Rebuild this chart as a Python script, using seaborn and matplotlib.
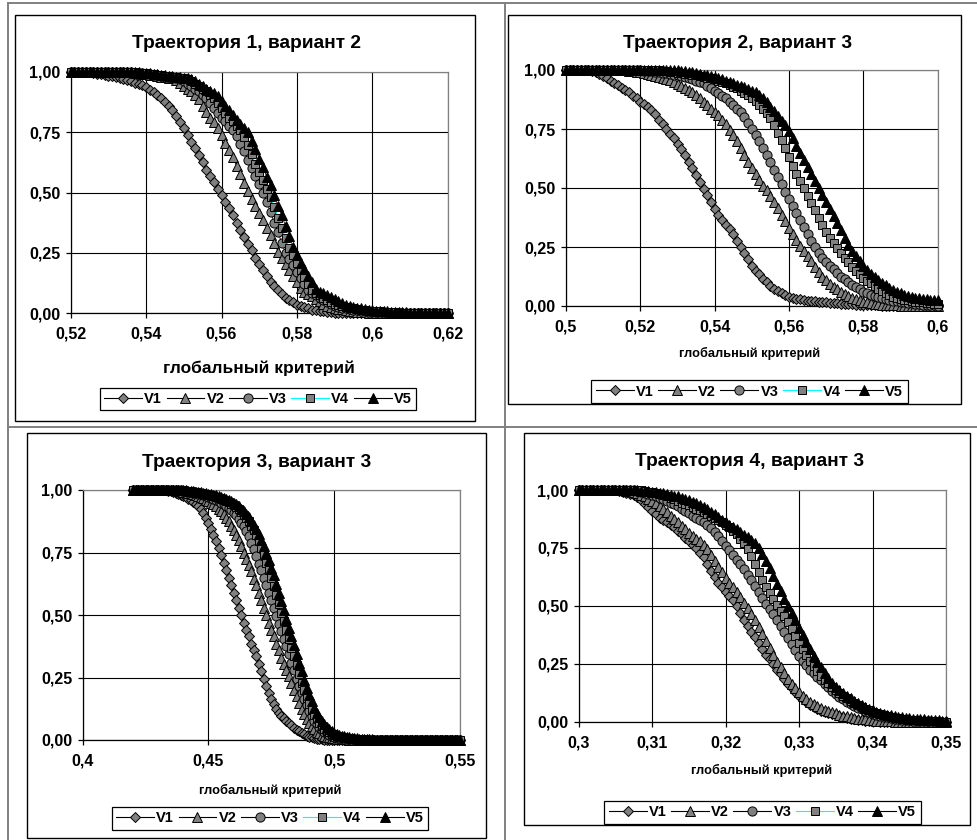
import numpy as np
import matplotlib
matplotlib.use("Agg")
import matplotlib.pyplot as plt
import seaborn as sns
from matplotlib.ticker import FuncFormatter, FixedLocator
from matplotlib.lines import Line2D
from matplotlib.patches import Rectangle

plt.rcParams['font.family'] = ['Liberation Sans', 'DejaVu Sans']
plt.rcParams['font.weight'] = 'bold'

series_names = ["V1", "V2", "V3", "V4", "V5"]
titles = ["Траектория 1, вариант 2", "Траектория 2, вариант 3",
          "Траектория 3, вариант 3", "Траектория 4, вариант 3"]
xlabel_text = "глобальный критерий"

# ---------------- Panel 1 : x = 0.520 ... 0.620, step 0.001 (values in %)
p1_x_start, p1_x_step = 0.520, 0.001
p1_xlim = (0.52, 0.62)
p1_xticks = [0.52, 0.54, 0.56, 0.58, 0.60, 0.62]
p1_V1 = [100,100,100,100,100,100,99.5,99.2,99,98.7,
         98.4,98.1,97.8,97.4,97,96.5,96,95.5,95,94.3,
         93.5,92.5,91.5,90.5,89,87.5,86,84,81.5,79,
         76.5,74,71,68.5,65.5,62.5,59.5,57,54.5,51.5,
         49,46,43.5,40.5,37.5,34.5,31.5,28.5,26,23,
         20.5,18,15.5,13,11.5,9.5,8,6.5,5.5,4.5,
         3.5,3,2.5,2,1.5,1.3,1,0.8,0.6,0.4,
         0.3,0.2,0.1,0,0,0,0,0,0,0,
         0,0,0,0,0,0,0,0,0,0,
         0,0,0,0,0,0,0,0,0,0,
         0]
p1_V2 = [100,100,100,100,100,100,100,100,100,100,
         100,100,100,100,100,100,99.8,99.6,99.4,99.2,
         99,98.7,98.5,98.2,98,97.8,97.5,97.2,96.5,95.3,
         94,93,92,90.5,88.5,86,83.5,81,79,76.5,
         74,70.5,67.5,64.5,61,57.5,54,50.5,47.5,44.5,
         41.5,38.5,35.5,32.5,29,25.5,23,20.5,18,15.5,
         13,10.5,9,8,7,6,5,4,3,2.6,
         2.2,1.9,1.6,1.3,1,0.8,0.6,0.5,0.4,0.3,
         0.2,0.1,0,0,0,0,0,0,0,0,
         0,0,0,0,0,0,0,0,0,0,
         0]
p1_V3 = [100,100,100,100,100,100,100,100,100,100,
         100,100,100,100,100,100,99.8,99.6,99.4,99.3,
         99.1,99,98.7,98.5,98.2,98,97.7,97.5,97.2,97,
         96,95,94,93,92,90.5,89,87,85,83,
         81,79.5,77.5,76,73.5,70,67,63.5,60,57,
         53.5,50,46,42,37.5,33.5,29,25,22.5,20,
         17,14.5,12,9.5,8.5,7.5,6.5,5.5,4.5,3.7,
         3,2.7,2.4,2,1.7,1.4,1.2,1,0.8,0.7,
         0.5,0.4,0.3,0.2,0.1,0,0,0,0,0,
         0,0,0,0,0,0,0,0,0,0,
         0]
p1_V4 = [100,100,100,100,100,100,100,100,100,100,
         100,100,100,100,100,100,100,99.8,99.6,99.4,
         99.3,99.1,99,98.8,98.6,98.4,98.2,98,97.7,97.5,
         97.2,97,96,95,94,93,92,90.5,89,87,
         85,83,81,79.5,77.5,76,73,69.5,66,62,
         58.5,55,51.5,48,44,39.5,35.5,31,27,24,
         21,18,15,12,9.5,8.5,7.5,6.5,5.5,4.7,
         4,3.5,3,2.7,2.4,2.1,1.8,1.5,1.3,1.1,
         1,0.9,0.8,0.7,0.6,0.5,0.4,0.3,0.2,0.2,
         0.1,0,0,0,0,0,0,0,0,0,
         0]
p1_V5 = [100,100,100,100,100,100,100,100,100,100,
         100,100,100,100,100,100,100,100,99.8,99.6,
         99.4,99.3,99.1,99,98.8,98.6,98.4,98.2,98,97.7,
         97.5,97.2,97,96,95,94,93,92,91,90,
         88,86,84,82,80,78.5,76.5,75,71.5,68,
         64,60.5,56.5,53,49,44.5,40.5,36,32,27.5,
         24,21,18.5,15.5,13,10,9,8.3,7.5,6.7,
         6,5,4.3,3.5,3,2.7,2.4,2.1,1.8,1.5,
         1.3,1.1,1,0.9,0.8,0.7,0.6,0.5,0.4,0.4,
         0.3,0.3,0.2,0.2,0.1,0.1,0,0,0,0,
         0]

# ---------------- Panel 2 : x = 0.500 ... 0.600, step 0.001
p2_x_start, p2_x_step = 0.500, 0.001
p2_xlim = (0.50, 0.60)
p2_xticks = [0.50, 0.52, 0.54, 0.56, 0.58, 0.60]
p2_V1 = [100,100,100,100,100,100,100,99.7,99.3,98.5,
         97.5,96.5,95.5,94.5,93.5,92.5,91.5,90.5,89,88,
         86.5,85.5,84.5,83,81.5,79,77,75,73,71,
         68.5,66.5,64,61,58.5,55.5,52.5,49.5,47,44,
         41,38.5,36.5,34.5,32.5,30.5,27.5,25,22.5,20,
         17,15,13.5,11.5,10,8.5,7,6.2,5.3,4.5,
         3.9,3.5,3.1,2.8,2.5,2.3,2.1,2,1.8,1.7,
         1.5,1.4,1.3,1.1,1,0.9,0.8,0.7,0.6,0.5,
         0.4,0.4,0.3,0.3,0.3,0.2,0.2,0.2,0.1,0.1,
         0.1,0,0,0,0,0,0,0,0,0,
         0]
p2_V2 = [100,100,100,100,100,100,100,100,100,100,
         100,100,100,100,100,100,99.8,99.6,99.4,99.2,
         99,98.7,98.4,98,97.6,97.2,96.8,96.3,95.8,95,
         94.2,93.4,92.5,91.5,90.5,89.5,88,86.5,85,83.5,
         82.3,81,79,77,74.5,72.5,70,67,64,61,
         58.5,56,53.5,51,49,46.5,44,41.5,38.5,36,
         33,30.5,28,25.5,23.5,21,19,16.5,14.5,12.5,
         11,9.5,8,7,6,5,4.3,3.6,3,2.4,
         1.8,1.5,1.2,1,0.8,0.6,0.5,0.4,0.3,0.3,
         0.2,0.2,0.1,0.1,0,0,0,0,0,0,
         0]
p2_V3 = [100,100,100,100,100,100,100,100,100,100,
         100,100,100,100,100,100,100,100,100,100,
         99.8,99.7,99.5,99.4,99.2,99,98.8,98.6,98.3,98,
         97.7,97.3,97,96.5,96,95.5,95,94.3,93.3,92.3,
         91.3,90.3,89,88,86.5,85,83.5,82,80,77.5,
         75,72.5,70,67,64,61,57.5,54.5,51.5,48.5,
         45.5,42.5,39.5,36.5,33.5,30.5,27.5,25,22.5,20.5,
         18.5,17,15.5,14,12.5,11.5,10,9,8,7,
         6,5.3,4.7,4.2,3.7,3.3,2.9,2.6,2.3,2,
         1.8,1.6,1.4,1.2,1,0.8,0.6,0.5,0.4,0.3,
         0.2]
p2_V4 = [100,100,100,100,100,100,100,100,100,100,
         100,100,100,100,100,100,100,100,100,100,
         100,100,100,100,100,99.8,99.6,99.4,99.2,99,
         98.8,98.6,98.4,98.2,98,97.7,97.4,97.1,96.8,96.5,
         96,95.5,95,94.4,93.7,93,92.2,91.3,90.3,89.2,
         88,86.7,85.2,83.6,81.8,79.5,76.5,73.5,70.5,67,
         63,59.5,56,53,50,46.5,43.5,40.5,37.5,34.5,
         31.5,29,26.5,24.5,22.5,20.5,18.5,16.7,15,13.5,
         12,10.8,9.6,8.5,7.4,6.4,5.5,4.7,4,3.5,
         3,2.7,2.4,2.1,1.9,1.7,1.5,1.3,1.1,1,
         0.9]
p2_V5 = [100,100,100,100,100,100,100,100,100,100,
         100,100,100,100,100,100,100,100,100,100,
         100,100,100,100,100,100,100,100,100,100,
         99.8,99.6,99.4,99.2,99,98.7,98.4,98,97.7,97.3,
         96.9,96.5,96,95.5,95,94.4,93.8,93.2,92.6,92,
         91.3,90.5,89.5,88,86.5,84.5,82.5,80.5,78.5,76.5,
         74,71,68,65,62,59,56,53,50,47,
         44,41,38,35,32,29,26,23.5,21,19,
         17,15.2,13.7,12.3,11,9.8,8.7,7.7,6.8,6,
         5.3,4.7,4.2,3.8,3.5,3.2,3,2.8,2.6,2.5,
         2.4]

# ---------------- Panel 3 : x = 0.420 ... 0.550, step 0.001
p3_x_start, p3_x_step = 0.420, 0.001
p3_xlim = (0.40, 0.55)
p3_xticks = [0.40, 0.45, 0.50, 0.55]
p3_V1 = [100,100,100,100,100,100,100,100,100,100,
         100,100,100,100,99.8,99.6,99.3,99,98.6,98.2,
         97.7,97.2,96.6,96,95.3,94.5,93.5,92.3,90.8,89,
         87,84.5,82,79.5,77,74,71,68,65,62,
         59,56,53,50,47,44,41.5,38.5,36,33.5,
         30.5,27.5,24.5,21.5,19,16.5,14.5,12.5,11,9.8,
         8.8,7.8,6.9,6,5,4.2,3.5,2.9,2.3,1.8,
         1.4,1.1,0.8,0.6,0.4,0.3,0.2,0.1,0,0,
         0,0,0,0,0,0,0,0,0,0,
         0,0,0,0,0,0,0,0,0,0,
         0,0,0,0,0,0,0,0,0,0,
         0,0,0,0,0,0,0,0,0,0,
         0,0,0,0,0,0,0,0,0,0,
         0]
p3_V2 = [100,100,100,100,100,100,100,100,100,100,
         100,100,100,100,100,100,100,100,99.8,99.6,
         99.4,99.2,99,98.7,98.4,98,97.6,97.2,96.7,96.1,
         95.5,95,94.5,93.5,92.5,91.5,90.5,89,87.5,85.5,
         84,82,80,77.5,75,72.5,70,67.5,64.5,62,
         59,56,53,50,47,44,41.5,38.5,36,33,
         30.5,28,25.5,23,20,17.5,15,12.5,10.5,8.5,
         7,5.5,4.3,3.4,2.7,2.1,1.7,1.3,1.1,0.9,
         0.7,0.6,0.5,0.4,0.3,0.3,0.2,0.2,0.1,0.1,
         0,0,0,0,0,0,0,0,0,0,
         0,0,0,0,0,0,0,0,0,0,
         0,0,0,0,0,0,0,0,0,0,
         0,0,0,0,0,0,0,0,0,0,
         0]
p3_V3 = [100,100,100,100,100,100,100,100,100,100,
         100,100,100,100,100,100,100,100,100,100,
         99.8,99.6,99.4,99.2,99,98.8,98.6,98.3,98,97.7,
         97.3,97,96.5,96,95.5,95,94.3,93.6,92.8,92,
         91,90,88.5,87,85.5,83.5,81.5,79,76.5,73.5,
         70.5,68,65,62,59,56,53,49.5,46.5,43.5,
         40.5,37.5,34.5,31,28,24.5,21.5,19,16.5,14,
         11.5,9.5,7.8,6.4,5.2,4.2,3.4,2.7,2.1,1.7,
         1.3,1,0.8,0.7,0.6,0.5,0.4,0.3,0.3,0.2,
         0.2,0.1,0.1,0,0,0,0,0,0,0,
         0,0,0,0,0,0,0,0,0,0,
         0,0,0,0,0,0,0,0,0,0,
         0,0,0,0,0,0,0,0,0,0,
         0]
p3_V4 = [100,100,100,100,100,100,100,100,100,100,
         100,100,100,100,100,100,100,100,100,100,
         100,99.8,99.6,99.5,99.3,99.2,99,98.8,98.6,98.4,
         98.2,98,97.7,97.4,97,96.6,96.2,95.7,95.2,94.6,
         94,93.2,92.3,91.3,90.2,89,87.5,85.8,84,82,
         79.5,77,74,71,68,65,61.5,58,54.5,51,
         47.5,44,40.5,37,33.5,30,26.5,23,20,17,
         14.5,12,10,8.3,6.8,5.6,4.6,3.8,3.1,2.5,
         2,1.6,1.3,1.1,0.9,0.8,0.7,0.6,0.5,0.4,
         0.3,0.3,0.2,0.2,0.1,0.1,0,0,0,0,
         0,0,0,0,0,0,0,0,0,0,
         0,0,0,0,0,0,0,0,0,0,
         0,0,0,0,0,0,0,0,0,0,
         0]
p3_V5 = [100,100,100,100,100,100,100,100,100,100,
         100,100,100,100,100,100,100,100,100,100,
         100,100,99.8,99.7,99.5,99.4,99.2,99.1,99,98.8,
         98.6,98.4,98.2,98,97.7,97.4,97,96.6,96.1,95.6,
         95,94.3,93.5,92.6,91.6,90.5,89.2,87.8,86.2,84.4,
         82.4,80,77.5,75,72,69,66,62.5,59,55.5,
         52,48.5,45,41.5,38,34.5,31,27.5,24,21,
         18,15.5,13,11,9.2,7.7,6.4,5.3,4.4,3.6,
         3,2.5,2.1,1.8,1.5,1.3,1.1,0.9,0.8,0.7,
         0.6,0.5,0.4,0.4,0.3,0.3,0.2,0.2,0.1,0.1,
         0,0,0,0,0,0,0,0,0,0,
         0,0,0,0,0,0,0,0,0,0,
         0,0,0,0,0,0,0,0,0,0,
         0]

# ---------------- Panel 4 : x = 0.3000 ... 0.3500, step 0.0005
p4_x_start, p4_x_step = 0.3000, 0.0005
p4_xlim = (0.30, 0.35)
p4_xticks = [0.30, 0.31, 0.32, 0.33, 0.34, 0.35]
p4_V1 = [100,100,100,100,100,100,100,100,100,100,
         99.8,99.5,99.2,98.8,98.3,97.7,96.8,95.5,94,92.5,
         91,89.5,88,87,86,85,84,82.5,81,79.5,
         78,76.5,75,73,71,68,65,62.5,60,58,
         56,54.5,52.5,50,47,44,41.5,39,36.5,34,
         31.5,29,27,25,22.5,20.5,18.5,16.5,14.5,13,
         11.2,9.7,8.5,7.5,6.5,5.5,4.8,4.2,3.8,3.3,
         2.9,2.5,2.1,1.7,1.4,1.1,0.9,0.7,0.6,0.5,
         0.4,0.3,0.2,0.2,0.1,0.1,0,0,0,0,
         0,0,0,0,0,0,0,0,0,0,
         0]
p4_V2 = [100,100,100,100,100,100,100,100,100,100,
         100,100,100,99.7,99.4,99,98.5,97.9,97.2,96.3,
         95.3,94.3,93.2,92,90.5,89,87.5,86,84.5,83,
         81.5,80,79,78,76.5,74.5,72,69.5,67,64.5,
         62,60,58,56,54,51.5,49,46.5,44,41,
         38,35,32,29,26,23.5,21,18.5,16.5,14.5,
         12.8,11.3,10,8.8,7.8,6.8,6,5.3,4.7,4.2,
         3.7,3.2,2.8,2.4,2.1,1.8,1.5,1.3,1.1,0.9,
         0.7,0.6,0.5,0.4,0.3,0.3,0.2,0.2,0.1,0.1,
         0,0,0,0,0,0,0,0,0,0,
         0]
p4_V3 = [100,100,100,100,100,100,100,100,100,100,
         100,100,100,100,100,99.8,99.5,99.2,98.8,98.3,
         97.8,97.2,96.6,96,95.3,94.6,93.8,93,92,91,
         90,89,88,87,86,85,83.5,82,80,78,
         76,74,72,70,68,66,63.5,61,58.5,56,
         53.5,51,48.5,46.5,44,41.5,39,36,33.5,31,
         28.5,26.5,24.5,22.5,21,19.5,18,16.5,15,13.5,
         12,10.8,9.7,8.7,7.8,7,6.2,5.5,4.8,4.2,
         3.6,3.1,2.7,2.3,2,1.7,1.4,1.2,1,0.9,
         0.7,0.6,0.5,0.4,0.3,0.3,0.2,0.2,0.1,0.1,
         0]
p4_V4 = [100,100,100,100,100,100,100,100,100,100,
         100,100,100,100,100,100,100,99.8,99.6,99.3,
         99,98.6,98.2,97.7,97.2,96.6,96,95.3,94.6,94,
         93.5,92.8,92,91.4,90.6,89.8,89,88,87,86,
         85,84,82.5,81,79,77,74.5,71.5,68,64.5,
         61,58,55.5,53,50.5,48,45.5,43,40,37,
         34,31.5,29,26.5,24,22,20,18.3,16.8,15.3,
         14,12.6,11.3,10.2,9.2,8.2,7.3,6.5,5.7,5,
         4.4,3.8,3.3,2.9,2.5,2.2,1.9,1.6,1.4,1.2,
         1,0.8,0.7,0.6,0.5,0.4,0.3,0.3,0.2,0.2,
         0.1]
p4_V5 = [100,100,100,100,100,100,100,100,100,100,
         100,100,100,100,100,99.9,99.8,99.7,99.6,99.5,
         99.3,99.1,98.9,98.6,98.3,98,97.6,97.2,96.7,96.2,
         95.6,95,94.3,93.5,92.6,91.6,90.6,89.5,88.3,87.1,
         86,85,84,83,82,80.8,79.6,78.4,77,75,
         72.5,69.5,66.5,63,59.5,56.5,53,50,47,44,
         40.5,37.5,34.5,31.5,28.5,26,23.5,21,18.8,16.8,
         15,13.6,12.3,11.2,10.2,9.2,8.2,7.3,6.4,5.7,
         5,4.5,4,3.6,3.2,2.9,2.6,2.3,2.1,1.9,
         1.7,1.5,1.3,1.2,1.1,1,0.9,0.8,0.7,0.6,
         0.6]

yticks = [0.0, 0.25, 0.50, 0.75, 1.0]

# ---------------- styles
GRAY = "#808080"
styles = {
    "V1": dict(marker="D", ms=4.6, fc=GRAY, line="black"),
    "V2": dict(marker="^", ms=7.2, fc=GRAY, line="black"),
    "V3": dict(marker="o", ms=6.6, fc=GRAY, line="black"),
    "V4": dict(marker="s", ms=5.8, fc=GRAY, line="#00FFFF"),
    "V5": dict(marker="^", ms=7.2, fc="black", line="black"),
}

W, H = 977, 840
fig = plt.figure(figsize=(W / 100, H / 100), dpi=100)
fig.patch.set_facecolor("white")

bg = fig.add_axes([0, 0, 1, 1])
bg.set_xlim(0, W)
bg.set_ylim(H, 0)
bg.axis("off")

# table lines (grey) and chart frames (black)
for (xa, ya, xb, yb) in [(8, 3, W, 3), (8, 3, 8, H), (505, 3, 505, H), (8, 427, W, 427)]:
    bg.add_line(Line2D([xa, xb], [ya, yb], color=GRAY, lw=1.4))

panels = [
    dict(data=(p1_x_start, p1_x_step, [p1_V1, p1_V2, p1_V3, p1_V4, p1_V5]), xlim=p1_xlim, xticks=p1_xticks,
         ax=(70.7, 71.7, 447.7, 313.3), box=(15, 15, 475, 421), title=(246, 48.3),
         xlab=(259, 373.3, 12.5), leg=(258, 399)),
    dict(data=(p2_x_start, p2_x_step, [p2_V1, p2_V2, p2_V3, p2_V4, p2_V5]), xlim=p2_xlim, xticks=p2_xticks,
         ax=(566, 70, 937.7, 306), box=(508, 15, 961, 404), title=(737.5, 48.3),
         xlab=(750, 357.3, 9.2), leg=(749.5, 391.5)),
    dict(data=(p3_x_start, p3_x_step, [p3_V1, p3_V2, p3_V3, p3_V4, p3_V5]), xlim=p3_xlim, xticks=p3_xticks,
         ax=(82.7, 490, 460, 740), box=(27, 433, 486, 838), title=(256.7, 467.3),
         xlab=(270, 794, 9.4), leg=(270, 818.5)),
    dict(data=(p4_x_start, p4_x_step, [p4_V1, p4_V2, p4_V3, p4_V4, p4_V5]), xlim=p4_xlim, xticks=p4_xticks,
         ax=(578.7, 490, 946, 722), box=(524, 433, 970, 825), title=(749.2, 465.7),
         xlab=(761.7, 774, 9.2), leg=(762.5, 812.5)),
]

xfmt = FuncFormatter(lambda v, p: f"{v:g}".replace(".", ","))
yfmt = FuncFormatter(lambda v, p: f"{v:.2f}".replace(".", ","))

for i, P in enumerate(panels):
    bx0, by0, bx1, by1 = P["box"]
    bg.add_patch(Rectangle((bx0, by0), bx1 - bx0, by1 - by0, fill=False, ec="black", lw=1.0))
    bg.text(P["title"][0], P["title"][1], titles[i], ha="center", va="baseline",
            fontsize=13.8, fontweight="bold")
    bg.text(P["xlab"][0], P["xlab"][1], xlabel_text, ha="center", va="baseline",
            fontsize=P["xlab"][2], fontweight="bold")

    x0, y0, x1, y1 = P["ax"]
    ax = fig.add_axes([x0 / W, 1 - y1 / H, (x1 - x0) / W, (y1 - y0) / H])
    ax.set_facecolor("white")
    xs, step, series = P["data"]
    for name, vals in zip(series_names, series):
        st = styles[name]
        yv = np.asarray(vals, dtype=float) / 100.0
        xv = xs + step * np.arange(len(yv))
        sns.lineplot(x=xv, y=yv, ax=ax, color=st["line"], linewidth=0.6,
                     marker=st["marker"], markersize=st["ms"],
                     markerfacecolor=st["fc"], markeredgecolor="black",
                     markeredgewidth=0.7, clip_on=False, legend=False,
                     errorbar=None, zorder=3)
    ax.set_xlim(*P["xlim"])
    ax.set_ylim(0, 1)
    ax.xaxis.set_major_locator(FixedLocator(P["xticks"]))
    ax.yaxis.set_major_locator(FixedLocator(yticks))
    ax.xaxis.set_major_formatter(xfmt)
    ax.yaxis.set_major_formatter(yfmt)
    ax.set_xlabel("")
    ax.set_ylabel("")
    ax.set_axisbelow(True)
    ax.grid(True, color="black", lw=0.8)
    for s in ["top", "right"]:
        ax.spines[s].set_color(GRAY)
        ax.spines[s].set_linewidth(0.9)
    for s in ["left", "bottom"]:
        ax.spines[s].set_color("black")
        ax.spines[s].set_linewidth(0.9)
    ax.tick_params(axis="both", direction="out", length=3.6, width=0.9, color="black",
                   labelsize=11.5)
    ax.tick_params(axis="x", pad=6.0)
    ax.tick_params(axis="y", pad=4.0)
    for lab in ax.get_xticklabels() + ax.get_yticklabels():
        lab.set_fontweight("bold")

    handles = []
    for name in series_names:
        st = styles[name]
        handles.append(Line2D([], [], color=st["line"], lw=0.8, marker=st["marker"],
                              markersize=st["ms"], markerfacecolor=st["fc"],
                              markeredgecolor="black", markeredgewidth=0.7))
    leg = ax.legend(handles, series_names, loc="center", ncol=5,
                    bbox_to_anchor=(P["leg"][0], P["leg"][1]), bbox_transform=bg.transData,
                    prop={"weight": "bold", "size": 10.5}, frameon=True, fancybox=False,
                    edgecolor="black", framealpha=1, borderpad=0.3, handlelength=2.6,
                    handletextpad=0.15, columnspacing=0.3, borderaxespad=0)
    leg.get_frame().set_linewidth(0.9)

fig.savefig("out.png", dpi=100, facecolor="white")
